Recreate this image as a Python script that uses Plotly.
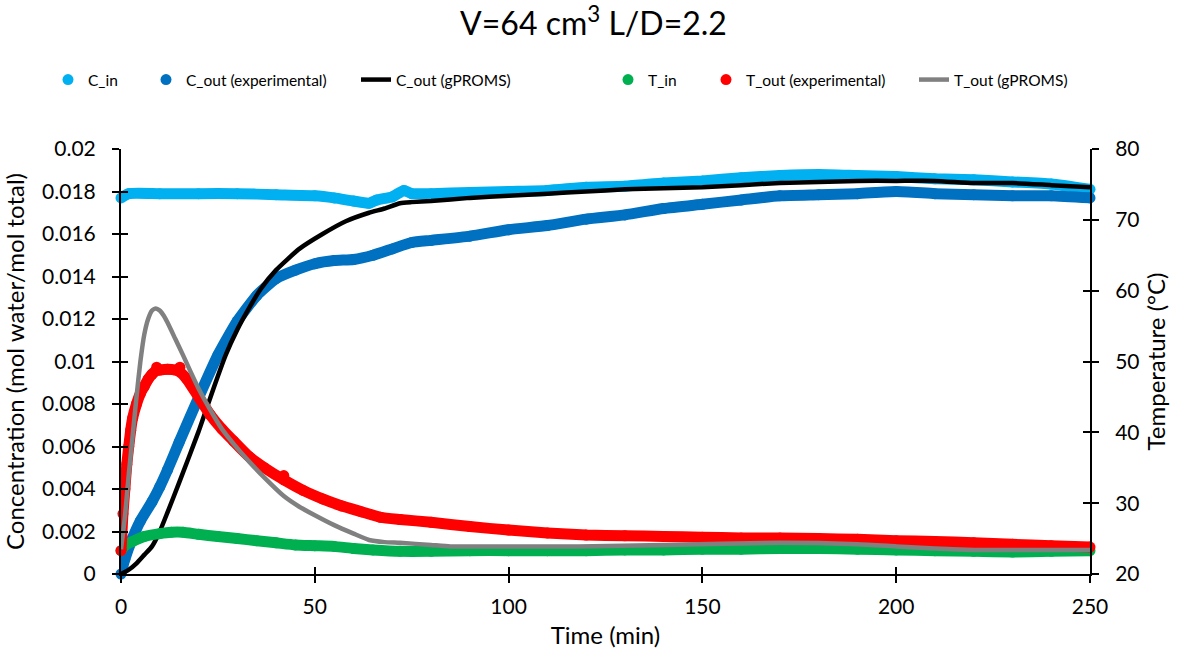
import plotly.graph_objects as go

# ---------------- data ----------------
cin_t = [0, 2, 10, 20, 30, 40, 50, 55, 60, 64, 66, 70, 73, 75, 80, 90, 100, 110, 120, 130, 140, 150,
         160, 170, 180, 190, 200, 210, 220, 230, 240, 250]
cin_v = [0.0177, 0.0179, 0.0179, 0.0179, 0.0179, 0.01785, 0.0178, 0.0177, 0.01755, 0.01745, 0.0176,
         0.01775, 0.01805, 0.0179, 0.0179, 0.01795, 0.0180, 0.01805, 0.0182, 0.01825, 0.0184, 0.0185,
         0.01865, 0.01875, 0.0188, 0.01875, 0.0187, 0.0186, 0.01855, 0.01845, 0.01835, 0.0181]

cout_t = [0, 1, 3, 5, 8, 10, 12, 15, 20, 25, 30, 35, 40, 45, 50, 55, 60, 65, 70, 75, 80, 90, 100,
          110, 120, 130, 140, 150, 160, 170, 180, 190, 200, 210, 220, 230, 240, 250]
cout_v = [0.0, 0.0007, 0.0017, 0.0025, 0.0034, 0.0041, 0.0049, 0.0062, 0.0083, 0.0103, 0.0119,
          0.0131, 0.0139, 0.0143, 0.0146, 0.01475, 0.0148, 0.0150, 0.0153, 0.0156, 0.0157, 0.0159,
          0.0162, 0.0164, 0.0167, 0.0169, 0.0172, 0.0174, 0.0176, 0.0178, 0.01785, 0.0179, 0.0180,
          0.0179, 0.01785, 0.0178, 0.0178, 0.0177]

cmod_t = [0, 2, 4, 6, 8, 10, 12, 15, 20, 24, 27, 30, 33, 36, 40, 46, 52, 58, 64, 68, 72, 75, 80,
          90, 100, 110, 120, 130, 140, 150, 160, 170, 180, 190, 200, 210, 220, 230, 240, 250]
cmod_v = [0.0, 0.0002, 0.0005, 0.0009, 0.0013, 0.0020, 0.0029, 0.0043, 0.0067, 0.0088, 0.0103,
          0.0115, 0.0125, 0.0134, 0.0143, 0.0153, 0.0160, 0.0166, 0.0170, 0.0172, 0.01745, 0.0175,
          0.01755, 0.0177, 0.0178, 0.0179, 0.0180, 0.0181, 0.01815, 0.0182, 0.0183, 0.0184, 0.01845,
          0.0185, 0.0185, 0.0185, 0.0184, 0.0184, 0.0183, 0.0182]

tin_t = [0, 1, 3, 6, 10, 13, 16, 20, 25, 30, 35, 40, 45, 50, 55, 60, 65, 72, 80, 90, 100, 110, 120,
         130, 140, 150, 160, 170, 180, 190, 200, 210, 220, 230, 240, 250]
tin_v = [23.3, 24.0, 24.6, 25.3, 25.7, 25.9, 25.9, 25.6, 25.3, 25.0, 24.7, 24.4, 24.1, 24.0, 23.9,
         23.6, 23.4, 23.2, 23.2, 23.3, 23.3, 23.3, 23.3, 23.4, 23.4, 23.5, 23.5, 23.6, 23.6, 23.5,
         23.4, 23.3, 23.2, 23.1, 23.2, 23.3]

tout_t = [0, 0.5, 1, 1.5, 2, 2.5, 3, 4, 5, 6, 7, 8, 9, 10, 12, 14, 15, 17, 20, 23, 26, 29, 33, 37,
          42, 47, 52, 57, 62, 67, 72, 80, 90, 100, 110, 120, 130, 140, 150, 160, 170, 180, 190, 200,
          210, 220, 230, 240, 250]
tout_v = [23.3, 28.5, 32.0, 35.5, 38.0, 40.3, 42.0, 44.0, 45.5, 46.5, 47.5, 48.2, 48.7, 48.8, 48.9,
          48.8, 48.6, 47.5, 45.0, 42.5, 40.5, 38.8, 36.6, 35.0, 33.3, 31.8, 30.6, 29.6, 28.8, 28.0,
          27.7, 27.3, 26.7, 26.2, 25.8, 25.5, 25.4, 25.3, 25.2, 25.1, 25.1, 25.0, 24.9, 24.7, 24.6,
          24.4, 24.2, 24.0, 23.8]
# isolated readings standing out of the T_out band
tout_odd_t = [9.2, 15.2, 42]
tout_odd_v = [49.2, 49.2, 33.9]

tmod_t = [0, 1, 2, 3, 4, 5, 6, 7, 8, 9, 10, 11, 12, 14, 16, 18, 20, 23, 26, 29, 33, 37, 42, 46, 50,
          55, 60, 64, 68, 72, 80, 85, 100, 118, 140, 170, 190, 200, 210, 220, 250]
tmod_v = [23.5, 28.0, 34.0, 39.5, 45.0, 50.0, 53.8, 56.0, 57.2, 57.5, 57.2, 56.5, 55.5, 53.2, 50.9,
          48.5, 46.2, 43.2, 40.5, 38.4, 35.9, 33.6, 31.0, 29.5, 28.3, 26.9, 25.7, 24.8, 24.5, 24.4,
          24.1, 23.9, 23.9, 23.9, 24.1, 24.4, 24.2, 23.9, 23.6, 23.4, 23.4]

x_ticks = [0, 50, 100, 150, 200, 250]
yl_ticks = [0, 0.002, 0.004, 0.006, 0.008, 0.01, 0.012, 0.014, 0.016, 0.018, 0.02]
yl_labels = ["0", "0.002", "0.004", "0.006", "0.008", "0.01", "0.012", "0.014", "0.016", "0.018", "0.02"]
yr_ticks = [20, 30, 40, 50, 60, 70, 80]

# ---------------- styles ----------------
FONT = "Lato"
C_IN = "#00B0F0"
C_OUT = "#0070C0"
T_IN = "#00B050"
T_OUT = "#FF0000"
GREY = "#808080"
BAND = 11
MS = 11

# legend entry positions (pixel x of the left edge of each one-item legend)
LEG_X = [48, 146, 356, 608, 706, 914]

fig = go.Figure()


def exp_series(t, v, color, name, yaxis, leg):
    fig.add_trace(go.Scatter(x=t, y=v, mode="lines", yaxis=yaxis, showlegend=False,
                             line=dict(color=color, width=BAND, shape="spline", smoothing=0.5),
                             cliponaxis=False, hoverinfo="skip"))
    fig.add_trace(go.Scatter(x=t, y=v, mode="markers", yaxis=yaxis, name=name, legend=leg,
                             marker=dict(color=color, size=MS), cliponaxis=False))


def model_series(t, v, color, name, yaxis, leg):
    fig.add_trace(go.Scatter(x=t, y=v, mode="lines", yaxis=yaxis, name=name, legend=leg,
                             line=dict(color=color, width=4.5, shape="spline", smoothing=0.5),
                             cliponaxis=False))


exp_series(cin_t, cin_v, C_IN, "C_in", "y", "legend")
exp_series(cout_t, cout_v, C_OUT, "C_out (experimental)", "y", "legend2")
model_series(cmod_t, cmod_v, "#000000", "C_out (gPROMS)", "y", "legend3")
exp_series(tin_t, tin_v, T_IN, "T_in", "y2", "legend4")
exp_series(tout_t, tout_v, T_OUT, "T_out (experimental)", "y2", "legend5")
fig.add_trace(go.Scatter(x=tout_odd_t, y=tout_odd_v, mode="markers", yaxis="y2", showlegend=False,
                         marker=dict(color=T_OUT, size=MS), cliponaxis=False, hoverinfo="skip"))
model_series(tmod_t, tmod_v, GREY, "T_out (gPROMS)", "y2", "legend6")

# empty helper traces so the inner-tick axes get drawn
fig.add_trace(go.Scatter(x=[], y=[], xaxis="x2", yaxis="y", showlegend=False, hoverinfo="skip"))
fig.add_trace(go.Scatter(x=[], y=[], xaxis="x", yaxis="y3", showlegend=False, hoverinfo="skip"))
fig.add_trace(go.Scatter(x=[], y=[], xaxis="x", yaxis="y4", showlegend=False, hoverinfo="skip"))

tickfont = dict(family=FONT, size=21, color="#000000")
titlefont = dict(family=FONT, size=24, color="#000000")
common = dict(showgrid=False, zeroline=False, showline=True, linecolor="#000000", linewidth=2,
              tickcolor="#000000", tickwidth=2, ticklen=7, ticks="outside", tickfont=tickfont)
inner = dict(showgrid=False, zeroline=False, showline=False, ticks="inside", ticklen=7,
             tickwidth=2, tickcolor="#000000", showticklabels=False)


def leg(px):
    return dict(orientation="h", x=px / 1187, xanchor="left", xref="container",
                y=1 - 80 / 661, yanchor="middle", yref="container",
                font=dict(family=FONT, size=15.5, color="#000000"), itemwidth=30,
                bgcolor="rgba(0,0,0,0)")


fig.update_layout(
    width=1187, height=661,
    margin=dict(l=121, r=97, t=149, b=87),
    paper_bgcolor="#FFFFFF", plot_bgcolor="#FFFFFF",
    font=dict(family=FONT, color="#000000"),
    title=dict(text="V=64 cm<sup>3</sup> L/D=2.2", x=0.5, xanchor="center", xref="container",
               y=1 - 24 / 661, yanchor="middle", yref="container",
               font=dict(family=FONT, size=32, color="#000000")),
    legend=leg(LEG_X[0]), legend2=leg(LEG_X[1]), legend3=leg(LEG_X[2]),
    legend4=leg(LEG_X[3]), legend5=leg(LEG_X[4]), legend6=leg(LEG_X[5]),
    showlegend=True,
    xaxis=dict(range=[0, 250], tickvals=x_ticks, ticktext=[str(v) for v in x_ticks],
               title=dict(text="Time (min)", font=titlefont, standoff=10),
               ticklabelstandoff=6, **common),
    xaxis2=dict(range=[0, 250], overlaying="x", anchor="y", side="bottom", tickvals=x_ticks, **inner),
    yaxis=dict(range=[0, 0.02], tickvals=yl_ticks, ticktext=yl_labels,
               title=dict(text="Concentration (mol water/mol total)", font=titlefont, standoff=12),
               ticklabelstandoff=12, **common),
    yaxis2=dict(range=[20, 80], overlaying="y", side="right", anchor="x", tickvals=yr_ticks,
                ticktext=[str(v) for v in yr_ticks],
                title=dict(text="Temperature (°C)", font=titlefont, standoff=10),
                ticklabelstandoff=12, **common),
    yaxis3=dict(range=[0, 0.02], overlaying="y", side="left", anchor="x", tickvals=yl_ticks, **inner),
    yaxis4=dict(range=[20, 80], overlaying="y", side="right", anchor="x", tickvals=yr_ticks, **inner),
)

fig.write_html("out.html")
